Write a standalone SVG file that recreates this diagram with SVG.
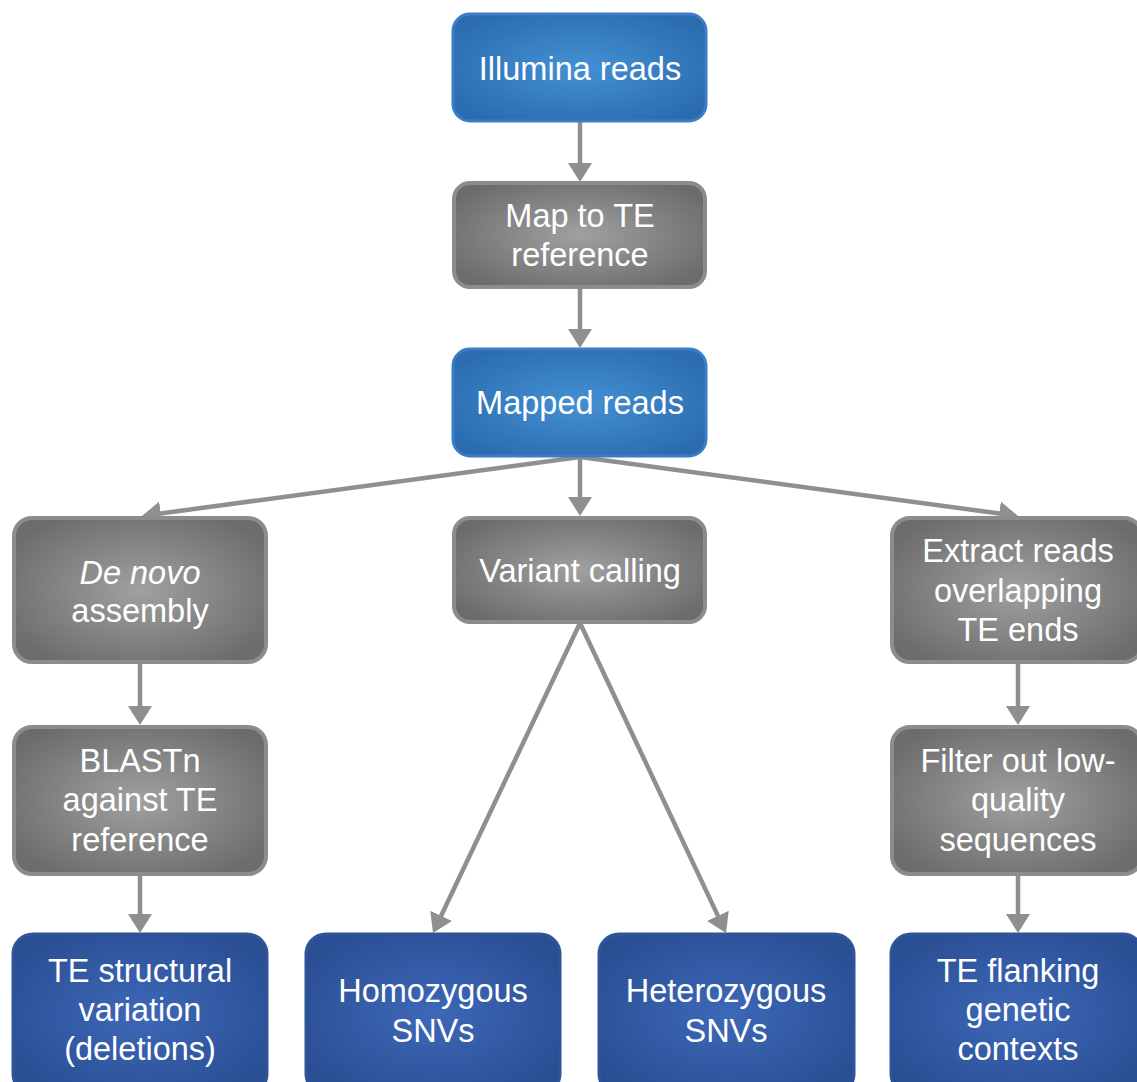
<svg xmlns="http://www.w3.org/2000/svg" width="1137" height="1082" viewBox="0 0 1137 1082">
<defs>
<radialGradient id="gBlue" cx="0.5" cy="0.5" r="0.6">
<stop offset="0" stop-color="#4490d4"/>
<stop offset="1" stop-color="#2b6cb0"/>
</radialGradient>
<radialGradient id="gGray" cx="0.5" cy="0.5" r="0.6">
<stop offset="0" stop-color="#a0a0a0"/>
<stop offset="1" stop-color="#6c6c6c"/>
</radialGradient>
<radialGradient id="gDark" cx="0.5" cy="0.5" r="0.6">
<stop offset="0" stop-color="#3d68b8"/>
<stop offset="1" stop-color="#2a4e93"/>
</radialGradient>
<marker id="ah" markerUnits="userSpaceOnUse" markerWidth="21" markerHeight="24" refX="4" refY="12" orient="auto">
<path d="M0,0 L19,12 L0,24 z" fill="#8f8f8f"/>
</marker>
<style>
.blue{fill:url(#gBlue);stroke:#3a7ec4;stroke-width:3}
.gray{fill:url(#gGray);stroke:#8c8c8c;stroke-width:4}
.dark{fill:url(#gDark);stroke:#2f5599;stroke-width:3}
text{font-family:"Liberation Sans",Arial,sans-serif;font-size:32.5px;fill:#ffffff;text-anchor:middle}
.conn line{stroke:#8f8f8f;stroke-width:4.5;marker-end:url(#ah)}
</style>
</defs>
<rect width="1137" height="1082" fill="#ffffff"/>
<g id="connectors" class="conn">
<line x1="580" y1="122" x2="580" y2="167"/>
<line x1="580" y1="288" x2="580" y2="333"/>
<line x1="580" y1="457" x2="156.8" y2="514"/>
<line x1="580" y1="457" x2="580" y2="501"/>
<line x1="580" y1="457" x2="1003.2" y2="514"/>
<line x1="580" y1="623" x2="439.4" y2="919.5"/>
<line x1="580" y1="623" x2="719.6" y2="919.4"/>
<line x1="140" y1="663" x2="140" y2="710"/>
<line x1="140" y1="875" x2="140" y2="918"/>
<line x1="1018" y1="663" x2="1018" y2="710"/>
<line x1="1018" y1="875" x2="1018" y2="918"/>
</g>
<g id="illumina">
<rect class="blue" x="453" y="14" width="253" height="107" rx="17"/>
<text x="580" y="80">Illumina reads</text>
</g>
<g id="map">
<rect class="gray" x="454" y="183" width="251" height="104" rx="16"/>
<text x="580" y="227">Map to TE</text>
<text x="580" y="266">reference</text>
</g>
<g id="mapped">
<rect class="blue" x="453" y="349" width="253" height="107" rx="17"/>
<text x="580" y="414">Mapped reads</text>
</g>
<g id="denovo">
<rect class="gray" x="14" y="518" width="252" height="144" rx="18"/>
<text x="140" y="584"><tspan font-style="italic">De novo</tspan></text>
<text x="140" y="622">assembly</text>
</g>
<g id="variant">
<rect class="gray" x="454" y="518" width="251" height="104" rx="16"/>
<text x="580" y="582">Variant calling</text>
</g>
<g id="extract">
<rect class="gray" x="892" y="518" width="250" height="144" rx="18"/>
<text x="1018" y="562">Extract reads</text>
<text x="1018" y="602">overlapping</text>
<text x="1018" y="641">TE ends</text>
</g>
<g id="blastn">
<rect class="gray" x="14" y="727" width="252" height="147" rx="18"/>
<text x="140" y="772">BLASTn</text>
<text x="140" y="811">against TE</text>
<text x="140" y="851">reference</text>
</g>
<g id="filter">
<rect class="gray" x="892" y="727" width="250" height="147" rx="18"/>
<text x="1018" y="772">Filter out low-</text>
<text x="1018" y="811">quality</text>
<text x="1018" y="851">sequences</text>
</g>
<g id="structural">
<rect class="dark" x="13" y="934" width="254" height="160" rx="20"/>
<text x="140" y="982">TE structural</text>
<text x="140" y="1021">variation</text>
<text x="140" y="1060">(deletions)</text>
</g>
<g id="homozygous">
<rect class="dark" x="306" y="934" width="254" height="160" rx="20"/>
<text x="433" y="1002">Homozygous</text>
<text x="433" y="1042">SNVs</text>
</g>
<g id="heterozygous">
<rect class="dark" x="599" y="934" width="255" height="160" rx="20"/>
<text x="726" y="1002">Heterozygous</text>
<text x="726" y="1042">SNVs</text>
</g>
<g id="flanking">
<rect class="dark" x="891" y="934" width="252" height="160" rx="20"/>
<text x="1018" y="982">TE flanking</text>
<text x="1018" y="1021">genetic</text>
<text x="1018" y="1060">contexts</text>
</g>
</svg>
